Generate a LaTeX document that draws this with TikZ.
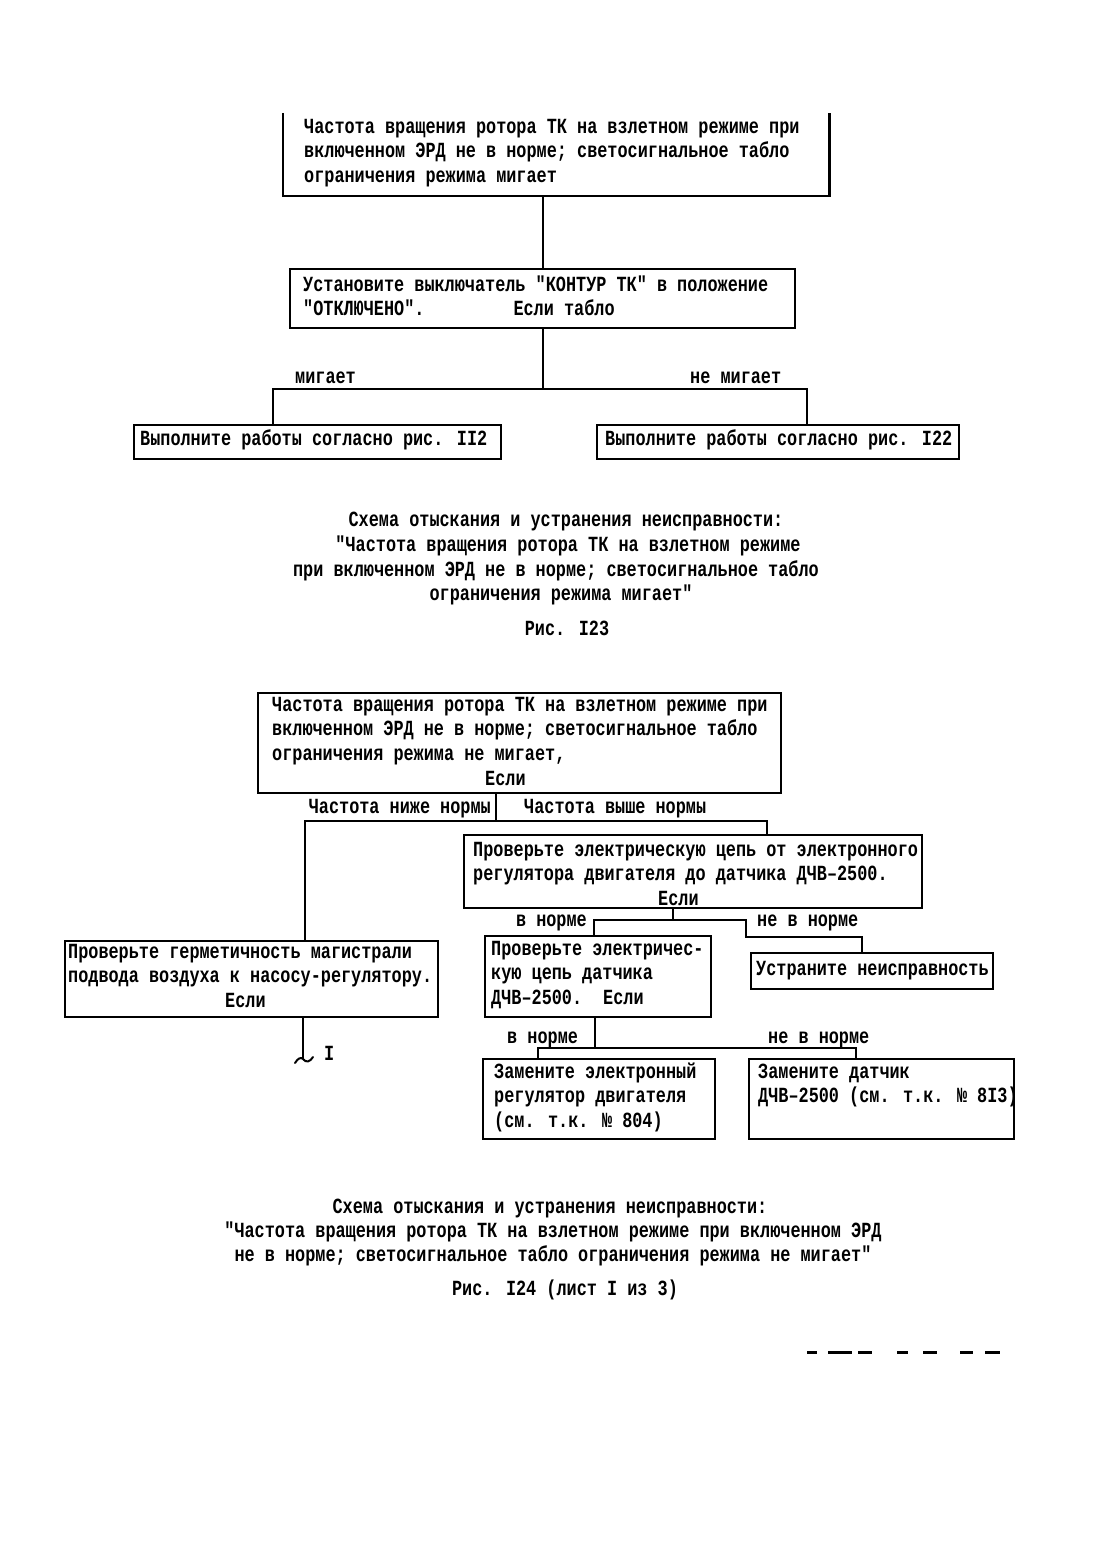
\documentclass[tikz,border=0pt]{standalone}
\usepackage{fontspec}
\newfontfamily\tw{Liberation Mono}[FakeStretch=0.78]
\newcommand\lstrut{\rule{0pt}{17pt}}
\tikzset{
  boxn/.style={draw, rectangle, anchor=north west, inner sep=0pt, line width=2.2pt},
  openbox/.style={rectangle, anchor=north west, inner sep=0pt},
  boxline/.style={line width=2.2pt},
  wire/.style={line width=2pt},
  twfont/.style={font={\tw\bfseries\fontsize{21.6}{24.7}\selectfont}},
  txt/.style={twfont, anchor=north west, inner sep=0pt, align=left},
  lblw/.style={twfont, anchor=base west, inner sep=0pt},
  lble/.style={twfont, anchor=base east, inner sep=0pt},
  captxt/.style={twfont, anchor=base, inner sep=0pt},
}
\begin{document}
\begin{tikzpicture}[x=1pt, y=-1pt]
\fill[white] (0,0) rectangle (1116,1562);
\useasboundingbox (0,0) rectangle (1116,1562);

% ---------------- Figure 123 ----------------
\node[openbox, minimum width=546pt, minimum height=83pt] (b1) at (283,113) {};
\draw[boxline] (b1.north west) -- (b1.south west) -- (b1.south east) -- (b1.north east);
\node[txt] (b1t) at (304,116) {\lstrut Частота вращения ротора ТК на взлетном режиме при\\включенном ЭРД не в норме; светосигнальное табло\\ограничения режима мигает};

\node[boxn, minimum width=505pt, minimum height=59pt] (b2) at (289,268) {};
\node[txt] (b2t) at (303,274) {\lstrut Установите выключатель "КОНТУР ТК" в положение\\"ОТКЛЮЧЕНО".\hspace*{89pt}Если табло};

\node[boxn, minimum width=367pt, minimum height=34pt] (b3) at (133,424) {};
\node[txt] (b3t) at (140,428) {\lstrut Выполните работы согласно рис. II2};

\node[boxn, minimum width=362pt, minimum height=34pt] (b4) at (596,424) {};
\node[txt] (b4t) at (605,428) {\lstrut Выполните работы согласно рис. I22};

\coordinate (j1L) at (273,389);
\coordinate (j1R) at (807,389);
\draw[wire] (b1.south -| b2.north) -- (b2.north);
\draw[wire] (b2.south) -- (b2.south |- j1L);
\draw[wire] (j1L |- b3.north) -- (j1L) -- (j1R) -- (j1R |- b4.north);
\node[lblw] (l1) at (295,383) {мигает};
\node[lblw] (l2) at (690,383) {не мигает};

\node[captxt] (c1a) at (566,526) {Схема отыскания и устранения неисправности:};
\node[captxt] (c1b) at (568,551) {"Частота вращения ротора ТК на взлетном режиме};
\node[captxt] (c1c) at (556,576) {при включенном ЭРД не в норме; светосигнальное табло};
\node[captxt] (c1d) at (561,600) {ограничения режима мигает"};
\node[captxt] (c1e) at (567,635) {Рис. I23};

% ---------------- Figure 124 ----------------
\node[boxn, minimum width=523pt, minimum height=100pt] (bA) at (257,692) {};
\node[txt] (bAt) at (272,694) {\lstrut Частота вращения ротора ТК на взлетном режиме при\\включенном ЭРД не в норме; светосигнальное табло\\ограничения режима не мигает,\\\hspace*{213pt}Если};

\coordinate (j2) at (496,821);
\coordinate (j2L) at (305,821);
\coordinate (j2R) at (767,821);

\node[boxn, minimum width=458pt, minimum height=73pt] (bB) at (463,834) {};
\node[txt] (bBt) at (473,839) {\lstrut Проверьте электрическую цепь от электронного\\регулятора двигателя до датчика ДЧВ–2500.\\\hspace*{185pt}Если};

\node[boxn, minimum width=373pt, minimum height=76pt] (bC) at (64,940) {};
\node[txt] (bCt) at (68,941) {\lstrut Проверьте герметичность магистрали\\подвода воздуха к насосу-регулятору.\\\hspace*{157pt}Если};

\node[boxn, minimum width=226pt, minimum height=81pt] (bD) at (484,935) {};
\node[txt] (bDt) at (491,938) {\lstrut Проверьте электричес-\\кую цепь датчика\\ДЧВ–2500.\hspace*{21pt}Если};

\node[boxn, minimum width=242pt, minimum height=36pt] (bE) at (750,952) {};
\node[txt] (bEt) at (756,958) {\lstrut Устраните неисправность};

\node[boxn, minimum width=232pt, minimum height=80pt] (bF) at (482,1058) {};
\node[txt] (bFt) at (494,1061) {\lstrut Замените электронный\\регулятор двигателя\\(см. т.к. № 804)};

\node[boxn, minimum width=265pt, minimum height=80pt] (bG) at (748,1058) {};
\node[txt] (bGt) at (758,1061) {\lstrut Замените датчик\\ДЧВ–2500 (см. т.к. № 8I3)};

% connectors
\draw[wire] (bA.south -| j2) -- (j2);
\draw[wire] (j2L |- bC.north) -- (j2L) -- (j2R) -- (j2R |- bB.north);
\node[lble] (l3) at (491,813) {Частота ниже нормы};
\node[lblw] (l4) at (524,813) {Частота выше нормы};

\coordinate (j3) at (673,920);
\coordinate (j3L) at (594,920);
\coordinate (j3R) at (746,920);
\coordinate (j3S) at (746,937);
\coordinate (j3T) at (862,937);
\draw[wire] (bB.south -| j3) -- (j3);
\draw[wire] (j3L |- bD.north) -- (j3L) -- (j3R) -- (j3S) -- (j3T) -- (j3T |- bE.north);
\node[lble] (l5) at (587,926) {в норме};
\node[lblw] (l6) at (757,926) {не в норме};

\coordinate (j4) at (595,1048);
\coordinate (j4L) at (538,1048);
\coordinate (j4R) at (856,1048);
\draw[wire] (bD.south -| j4) -- (j4);
\draw[wire] (j4L |- bF.north) -- (j4L) -- (j4R) -- (j4R |- bF.north);
\node[lblw] (l7) at (507,1043) {в норме};
\node[lblw] (l8) at (768,1043) {не в норме};

\coordinate (sq) at (303,1059);
\coordinate (sqL) at (295,1063);
\coordinate (sqR) at (313,1057);
\draw[wire] (bC.south -| sq) -- (sq);
\draw[wire, line cap=round] (sqL) .. controls (298,1058) and (301,1057) .. (sq) .. controls (306,1063) and (310,1062) .. (sqR);
\node[lblw] (l9) at (324,1060) {I};

\node[captxt] (c2a) at (550,1213) {Схема отыскания и устранения неисправности:};
\node[captxt] (c2b) at (553,1237) {"Частота вращения ротора ТК на взлетном режиме при включенном ЭРД};
\node[captxt] (c2c) at (553,1261) {не в норме; светосигнальное табло ограничения режима не мигает"};
\node[captxt] (c2d) at (565,1295) {Рис. I24 (лист I из 3)};

% cut-off page number fragments
\foreach \a/\b in {807/817, 828/852, 858/872, 897/908, 923/937, 960/973, 985/1000}
  \draw[line width=3pt] (\a,1352) -- (\b,1352);
\end{tikzpicture}
\end{document}
